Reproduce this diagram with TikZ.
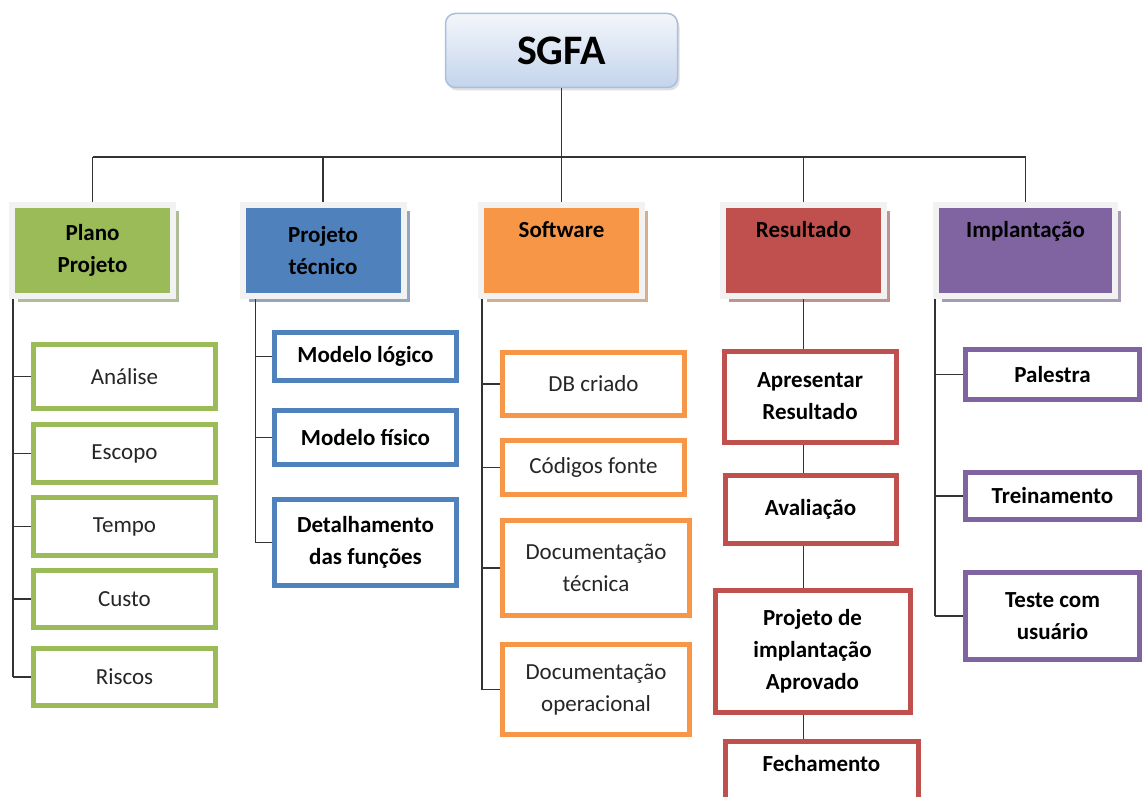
\documentclass[tikz,border=0pt]{standalone}
\usepackage{fontspec}
\setmainfont{Carlito}
\usetikzlibrary{shadows}

\definecolor{planoGreen}{HTML}{9BBB59}
\definecolor{tecBlue}{HTML}{4F81BD}
\definecolor{softOrange}{HTML}{F79646}
\definecolor{resRed}{HTML}{C0504D}
\definecolor{implPurple}{HTML}{8064A2}
\definecolor{rootTop}{HTML}{F3F6FB}
\definecolor{rootBottom}{HTML}{C3D4EC}
\definecolor{rootEdge}{HTML}{A9C0DD}

\tikzset{
  conn/.style={draw=black!80, line width=0.75pt},
  root/.style={rounded corners=5pt, draw=rootEdge, line width=0.75pt,
    top color=rootTop, bottom color=rootBottom, inner sep=0pt,
    minimum width=116pt, minimum height=37pt,
    font=\bfseries\fontsize{21}{24}\selectfont,
    drop shadow={shadow xshift=1pt, shadow yshift=-1.5pt, opacity=0.25}},
  head/.style={fill=#1, draw=black!5, line width=3pt, inner sep=0pt,
    minimum width=80.5pt, minimum height=45.5pt, align=center,
    font=\bfseries\fontsize{11.5}{16}\selectfont,
    drop shadow={shadow xshift=3pt, shadow yshift=-3pt, fill=#1!55!gray, opacity=0.7}},
  toptext/.style={text height=16.5pt, text depth=29pt},
  leaf/.style={fill=white, draw=#1, line width=2.5pt, inner sep=0pt, align=center,
    font=\fontsize{11.5}{16}\selectfont, text=black!85},
  boldleaf/.style={leaf=#1, font=\bfseries\fontsize{11.5}{16}\selectfont, text=black},
}

\begin{document}
\begin{tikzpicture}[x=0.5pt, y=-0.5pt]
  \clip (0,0) rectangle (1143,796);

  %% top of the tree
  \node[root] (sgfa) at (561.5,50.5) {SGFA};
  \coordinate (bus) at (561.5,157);

  %% the five branches
  \node[head=planoGreen] (plano) at (92.5,250.5) {Plano\\Projeto};
  \node[head=tecBlue] (tecnico) at (323,250.5) {Projeto\\técnico};
  \node[head=softOrange, toptext] (software) at (561.5,250.5) {Software};
  \node[head=resRed, toptext] (resultado) at (803.5,250.5) {Resultado};
  \node[head=implPurple, toptext, minimum width=89.5pt] (implantacao) at (1025.5,250.5) {Implantação};

  \draw[conn] (sgfa.south) -- (bus);
  \draw[conn] (bus -| plano.north) -- (bus -| implantacao.north);
  \foreach \h in {plano,tecnico,software,resultado,implantacao}
    \draw[conn] (bus -| \h.north) -- (\h.north);

  %% Plano Projeto
  \node[leaf=planoGreen, minimum width=91pt, minimum height=32pt] (analise) at (124.5,376.5) {Análise};
  \node[leaf=planoGreen, minimum width=91pt, minimum height=29pt] (escopo) at (124.5,453.5) {Escopo};
  \node[leaf=planoGreen, minimum width=91pt, minimum height=29pt] (tempo) at (124.5,526.5) {Tempo};
  \node[leaf=planoGreen, minimum width=91pt, minimum height=28.5pt] (custo) at (124.5,599) {Custo};
  \node[leaf=planoGreen, minimum width=91pt, minimum height=28.5pt] (riscos) at (124.5,677) {Riscos};

  \coordinate (planoSpine) at ([xshift=2pt]plano.south west);
  \draw[conn] (planoSpine) -- (planoSpine |- riscos.west);
  \foreach \n in {analise,escopo,tempo,custo,riscos}
    \draw[conn] (planoSpine |- \n.west) -- (\n.west);

  %% Projeto tecnico
  \node[boldleaf=tecBlue, minimum width=91pt, minimum height=24pt] (logico) at (365.5,356.5) {Modelo lógico};
  \node[boldleaf=tecBlue, minimum width=91pt, minimum height=27pt] (fisico) at (365.5,437.5) {Modelo físico};
  \node[boldleaf=tecBlue, minimum width=91pt, minimum height=43pt] (funcoes) at (365.5,542.5) {Detalhamento\\das funções};

  \coordinate (tecSpine) at ([xshift=8pt]tecnico.south west);
  \draw[conn] (tecSpine) -- (tecSpine |- funcoes.west);
  \foreach \n in {logico,fisico,funcoes}
    \draw[conn] (tecSpine |- \n.west) -- (\n.west);

  %% Software
  \node[leaf=softOrange, minimum width=91pt, minimum height=31.5pt] (db) at (593.5,384) {DB criado};
  \node[leaf=softOrange, minimum width=91pt, minimum height=27pt] (codigos) at (593.5,467.5) {Códigos fonte};
  \node[leaf=softOrange, minimum width=93.5pt, minimum height=47.5pt] (doctec) at (596,568) {Documentação\\técnica};
  \node[leaf=softOrange, minimum width=93.5pt, minimum height=45pt] (docop) at (596,689.5) {Documentação\\operacional};

  \coordinate (softSpine) at ([xshift=2pt]software.south west);
  \draw[conn] (softSpine) -- (softSpine |- docop.west);
  \foreach \n in {db,codigos,doctec,docop}
    \draw[conn] (softSpine |- \n.west) -- (\n.west);

  %% Resultado, one step after the other
  \begin{scope}[every node/.append style={line width=3pt}]
    \node[boldleaf=resRed, minimum width=86pt, minimum height=45.5pt] (apresentar) at (810,396.5) {Apresentar\\Resultado};
    \node[boldleaf=resRed, minimum width=85.5pt, minimum height=34pt] (avaliacao) at (810.5,509.5) {Avaliação};
    \node[boldleaf=resRed, minimum width=97.5pt, minimum height=61pt] (aprovado) at (812.5,651) {Projeto de\\implantação\\Aprovado};
    \node[boldleaf=resRed, anchor=north, minimum width=96.5pt, text height=15pt, text depth=40pt] (fechamento) at (821.5,739) {Fechamento};
  \end{scope}

  \foreach \a/\b in {resultado/apresentar,apresentar/avaliacao,avaliacao/aprovado,aprovado/fechamento}
    \draw[conn] (resultado.south |- \a.south) -- (resultado.south |- \b.north);

  %% Implantacao
  \node[boldleaf=implPurple, minimum width=87pt, minimum height=25pt] (palestra) at (1052.5,374.5) {Palestra};
  \node[boldleaf=implPurple, minimum width=87pt, minimum height=23.5pt] (treino) at (1052.5,496) {Treinamento};
  \node[boldleaf=implPurple, minimum width=87pt, minimum height=43.5pt] (teste) at (1052.5,616) {Teste com\\usuário};

  \coordinate (implSpine) at ([xshift=1pt]implantacao.south west);
  \draw[conn] (implSpine) -- (implSpine |- teste.west);
  \foreach \n in {palestra,treino,teste}
    \draw[conn] (implSpine |- \n.west) -- (\n.west);
\end{tikzpicture}
\end{document}
